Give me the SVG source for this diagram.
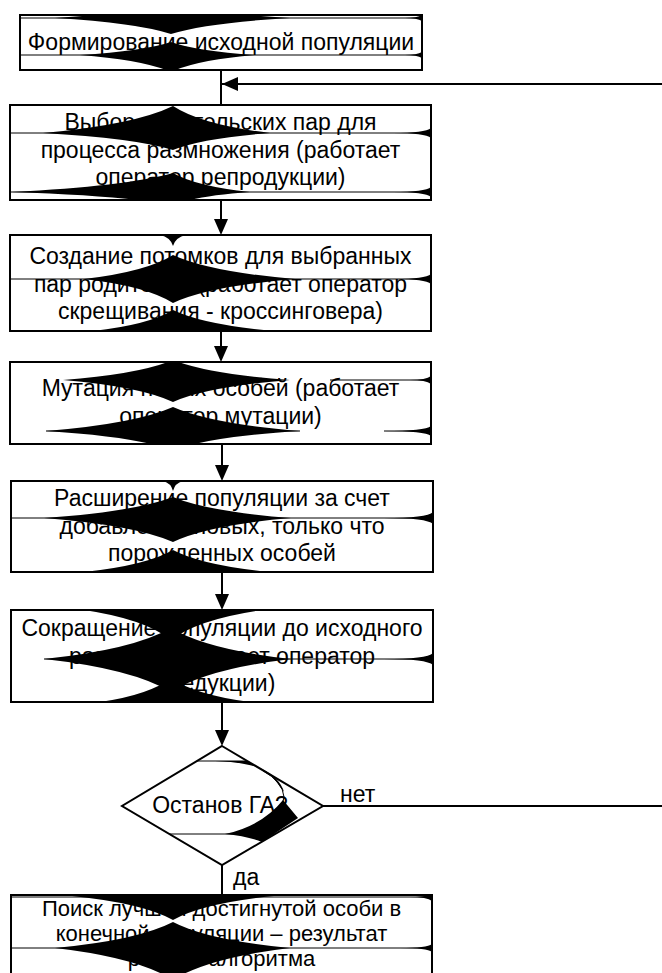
<svg xmlns="http://www.w3.org/2000/svg" width="662" height="973" viewBox="0 0 662 973">
<style>
.box{fill:none;stroke:#000;stroke-width:2}
.bg{fill:#fff}
.thin{stroke:#000;stroke-width:1;fill:none}
.con{stroke:#000;stroke-width:2;fill:none}
.ah{fill:#000}
.blob{fill:#000}
text{font-family:"Liberation Sans",Arial,sans-serif;font-size:23px;fill:#000}
.c{text-anchor:middle}
.s{font-size:22px}
</style>
<defs>
<clipPath id="k1"><rect x="20" y="15" width="402" height="55"/></clipPath>
<clipPath id="k2"><rect x="10" y="105" width="421" height="95"/></clipPath>
<clipPath id="k3"><rect x="10" y="235" width="421" height="96"/></clipPath>
<clipPath id="k4"><rect x="10" y="362" width="421" height="82"/></clipPath>
<clipPath id="k5"><rect x="11" y="481" width="422" height="91"/></clipPath>
<clipPath id="k6"><rect x="11" y="610" width="422" height="92"/></clipPath>
<clipPath id="k7"><rect x="11" y="895" width="421" height="100"/></clipPath>
</defs>
<rect width="662" height="973" fill="#fff"/>

<g id="connectors">
<line class="con" x1="221" y1="70" x2="221" y2="105"/>
<line class="con" x1="222" y1="84" x2="662" y2="84"/>
<polygon class="ah" points="222,84 238,77 238,91"/>
<line class="con" x1="221" y1="200" x2="221" y2="222"/>
<polygon class="ah" points="221,235 214,219 228,219"/>
<line class="con" x1="221" y1="331" x2="221" y2="349"/>
<polygon class="ah" points="221,362 214,346 228,346"/>
<line class="con" x1="222" y1="444" x2="222" y2="468"/>
<polygon class="ah" points="222,481 215,465 229,465"/>
<line class="con" x1="222" y1="572" x2="222" y2="597"/>
<polygon class="ah" points="222,610 215,594 229,594"/>
<line class="con" x1="222" y1="702" x2="222" y2="733"/>
<polygon class="ah" points="222,746 215,730 229,730"/>
<line class="con" x1="323" y1="806" x2="662" y2="806"/>
<line class="con" x1="222" y1="865" x2="222" y2="895"/>
<text x="340" y="802">нет</text>
<text x="233" y="885">да</text>
</g>

<g id="n1">
<rect class="bg" x="20" y="15" width="402" height="55"/>
<line class="thin" x1="20" y1="18" x2="422" y2="18"/>
<line class="thin" x1="20" y1="55" x2="422" y2="55"/>
<text class="c" x="221" y="50">Формирование исходной популяции</text>
<g clip-path="url(#k1)">
<path class="blob" d="M55,18 Q136.2,13.2 171,2 Q206.7,13.2 290,18 Q206.7,22.8 171,34 Q136.2,22.8 55,18Z"/>
<path class="blob" d="M80,55 Q143.7,51.1 171,42 Q196.2,51.1 255,55 Q196.2,60.1 171,72 Q143.7,60.1 80,55Z"/>
<path class="blob" d="M405,18 Q417,18 422,15 L422,21 Q417,18 405,18Z"/>
<path class="blob" d="M405,55 Q417,55 422,52 L422,58 Q417,55 405,55Z"/>
</g>
<rect class="box" x="20" y="15" width="402" height="55"/>
</g>

<g id="n2">
<rect class="bg" x="10" y="105" width="421" height="95"/>
<line class="thin" x1="10" y1="133" x2="431" y2="133"/>
<line class="thin" x1="10" y1="192" x2="431" y2="192"/>
<text class="c" x="220.5" y="130">Выбор родительских пар для</text>
<text class="c" x="220.5" y="158">процесса размножения (работает</text>
<text class="c" x="220.5" y="185">оператор репродукции)</text>
<g clip-path="url(#k2)">
<path class="blob" d="M43,133 Q134,124.9 173,106 Q202.1,124.9 270,133 Q202.1,138.1 173,150 Q134,138.1 43,133Z"/>
<path class="blob" d="M12,192 Q124.7,186.3 173,173 Q196.1,186.3 250,192 Q196.1,195.9 173,205 Q124.7,195.9 12,192Z"/>
<path class="blob" d="M393,133 Q425,133 431,128 L431,138 Q425,133 393,133Z"/>
<path class="blob" d="M393,192 Q425,192 431,187 L431,197 Q425,192 393,192Z"/>
</g>
<rect class="box" x="10" y="105" width="421" height="95"/>
</g>

<g id="n3">
<rect class="bg" x="10" y="235" width="421" height="96"/>
<line class="thin" x1="10" y1="279" x2="431" y2="279"/>
<text class="c" x="220.5" y="264">Создание потомков для выбранных</text>
<text class="c" x="220.5" y="292">пар родителей (работает оператор</text>
<text class="c" x="220.5" y="319">скрещивания - кроссинговера)</text>
<g clip-path="url(#k3)">
<path class="blob" d="M160,235 Q170.4,233.6 173,228 Q175.6,233.6 186,235 Q175.6,237.2 173,246 Q170.4,237.2 160,235Z"/>
<path class="blob" d="M84,279 Q146.3,271.8 173,255 Q209.6,271.8 295,279 Q209.6,286.2 173,303 Q146.3,286.2 84,279Z"/>
<path class="blob" d="M93,331 Q149,324.7 173,310 Q203.3,324.7 274,331 Q203.3,335.2 173,345 Q149,335.2 93,331Z"/>
<path class="blob" d="M395,279 Q425,279 431,274 L431,284 Q425,279 395,279Z"/>
</g>
<rect class="box" x="10" y="235" width="421" height="96"/>
</g>

<g id="n4">
<rect class="bg" x="10" y="362" width="421" height="82"/>
<line class="thin" x1="46" y1="431" x2="300" y2="431"/>
<line class="thin" x1="384" y1="431" x2="431" y2="431"/>
<line class="thin" x1="330" y1="380" x2="431" y2="380"/>
<text class="c" x="220.5" y="396">Мутация новых особей (работает</text>
<text class="c" x="220.5" y="424">оператор мутации)</text>
<g clip-path="url(#k4)">
<path class="blob" d="M63,380 Q140,374 173,360 Q208.1,374 290,380 Q208.1,386.6 173,402 Q140,386.6 63,380Z"/>
<path class="blob" d="M46,431 Q134.9,423.8 173,407 Q211.1,423.8 300,431 Q211.1,436.7 173,450 Q134.9,436.7 46,431Z"/>
<path class="blob" d="M410,380 Q426,380 431,376 L431,384 Q426,380 410,380Z"/>
<path class="blob" d="M384,431 Q425,431 431,426 L431,436 Q425,431 384,431Z"/>
</g>
<rect class="box" x="10" y="362" width="421" height="82"/>
</g>

<g id="n5">
<rect class="bg" x="11" y="481" width="422" height="91"/>
<line class="thin" x1="11" y1="518" x2="433" y2="518"/>
<text class="c" x="222" y="506">Расширение популяции за счет</text>
<text class="c" x="222" y="534">добавления новых, только что</text>
<text class="c" x="222" y="561">порожденных особей</text>
<g clip-path="url(#k5)">
<path class="blob" d="M163,481 Q171,480 173,476 Q175,480 183,481 Q175,483 173,491 Q171,483 163,481Z"/>
<path class="blob" d="M44,518 Q134.3,511.7 173,497 Q208.4,511.7 291,518 Q208.4,525.2 173,542 Q134.3,525.2 44,518Z"/>
<path class="blob" d="M84,572 Q146.3,565.4 173,550 Q202.1,565.4 270,572 Q202.1,575.9 173,585 Q146.3,575.9 84,572Z"/>
<path class="blob" d="M384,518 Q427,518 433,512 L433,524 Q427,518 384,518Z"/>
</g>
<rect class="box" x="11" y="481" width="422" height="91"/>
</g>

<g id="n6">
<rect class="bg" x="11" y="610" width="422" height="92"/>
<line class="thin" x1="44" y1="659" x2="433" y2="659"/>
<text class="c" x="222" y="636">Сокращение популяции до исходного</text>
<text class="c" x="222" y="664">размера (работает оператор</text>
<text class="c" x="222" y="691">редукции)</text>
<g clip-path="url(#k6)">
<path class="blob" d="M84,610 Q144.9,607 171,600 Q198.3,607 262,610 Q198.3,619 171,640 Q144.9,619 84,610Z"/>
<path class="blob" d="M44,659 Q132.9,649.7 171,628 Q207,649.7 291,659 Q207,668.9 171,692 Q132.9,668.9 44,659Z"/>
<path class="blob" d="M100,702 Q149.7,694.8 171,678 Q194.7,694.8 250,702 Q194.7,705 171,712 Q149.7,705 100,702Z"/>
<path class="blob" d="M384,659 Q427,659 433,653 L433,665 Q427,659 384,659Z"/>
</g>
<rect class="box" x="11" y="610" width="422" height="92"/>
</g>

<g id="n7">
<polygon class="bg" points="222,746 323,806 222,865 122,806"/>
<line class="thin" x1="197" y1="761" x2="247" y2="761"/>
<line class="thin" x1="169" y1="834" x2="275" y2="834"/>
<text class="c" x="220" y="813">Останов ГА?</text>
<path class="thin" d="M262,770 Q283,782 284,797 Q283,808 270,818"/>
<path class="blob" d="M215,761 L248,761 L272,776 L284,792 Q280,778 262,769 Q245,762 215,761Z"/>
<path class="blob" d="M283,800 L298,818 L262,842 Q247,836 225,834 Q262,826 283,800Z"/>
<polygon class="box" points="222,746 323,806 222,865 122,806"/>
</g>

<g id="n8">
<rect class="bg" x="11" y="895" width="421" height="100"/>
<line class="thin" x1="11" y1="897" x2="432" y2="897"/>
<line class="thin" x1="11" y1="948" x2="432" y2="948"/>
<text class="c s" x="221.5" y="916">Поиск лучшей достигнутой особи в</text>
<text class="c s" x="221.5" y="941">конечной популяции – результат</text>
<text class="c s" x="221.5" y="966">работы алгоритма</text>
<g clip-path="url(#k7)">
<path class="blob" d="M72,896 Q142.7,892.7 173,885 Q203.3,892.7 274,896 Q203.3,903.2 173,920 Q142.7,903.2 72,896Z"/>
<path class="blob" d="M55,948 Q137.6,940.2 173,922 Q208.1,940.2 290,948 Q208.1,957.6 173,980 Q137.6,957.6 55,948Z"/>
<path class="blob" d="M410,897 Q427,897 432,893 L432,901 Q427,897 410,897Z"/>
<path class="blob" d="M400,948 Q427,948 432,944 L432,952 Q427,948 400,948Z"/>
</g>
<rect class="box" x="11" y="895" width="421" height="100"/>
</g>
</svg>
